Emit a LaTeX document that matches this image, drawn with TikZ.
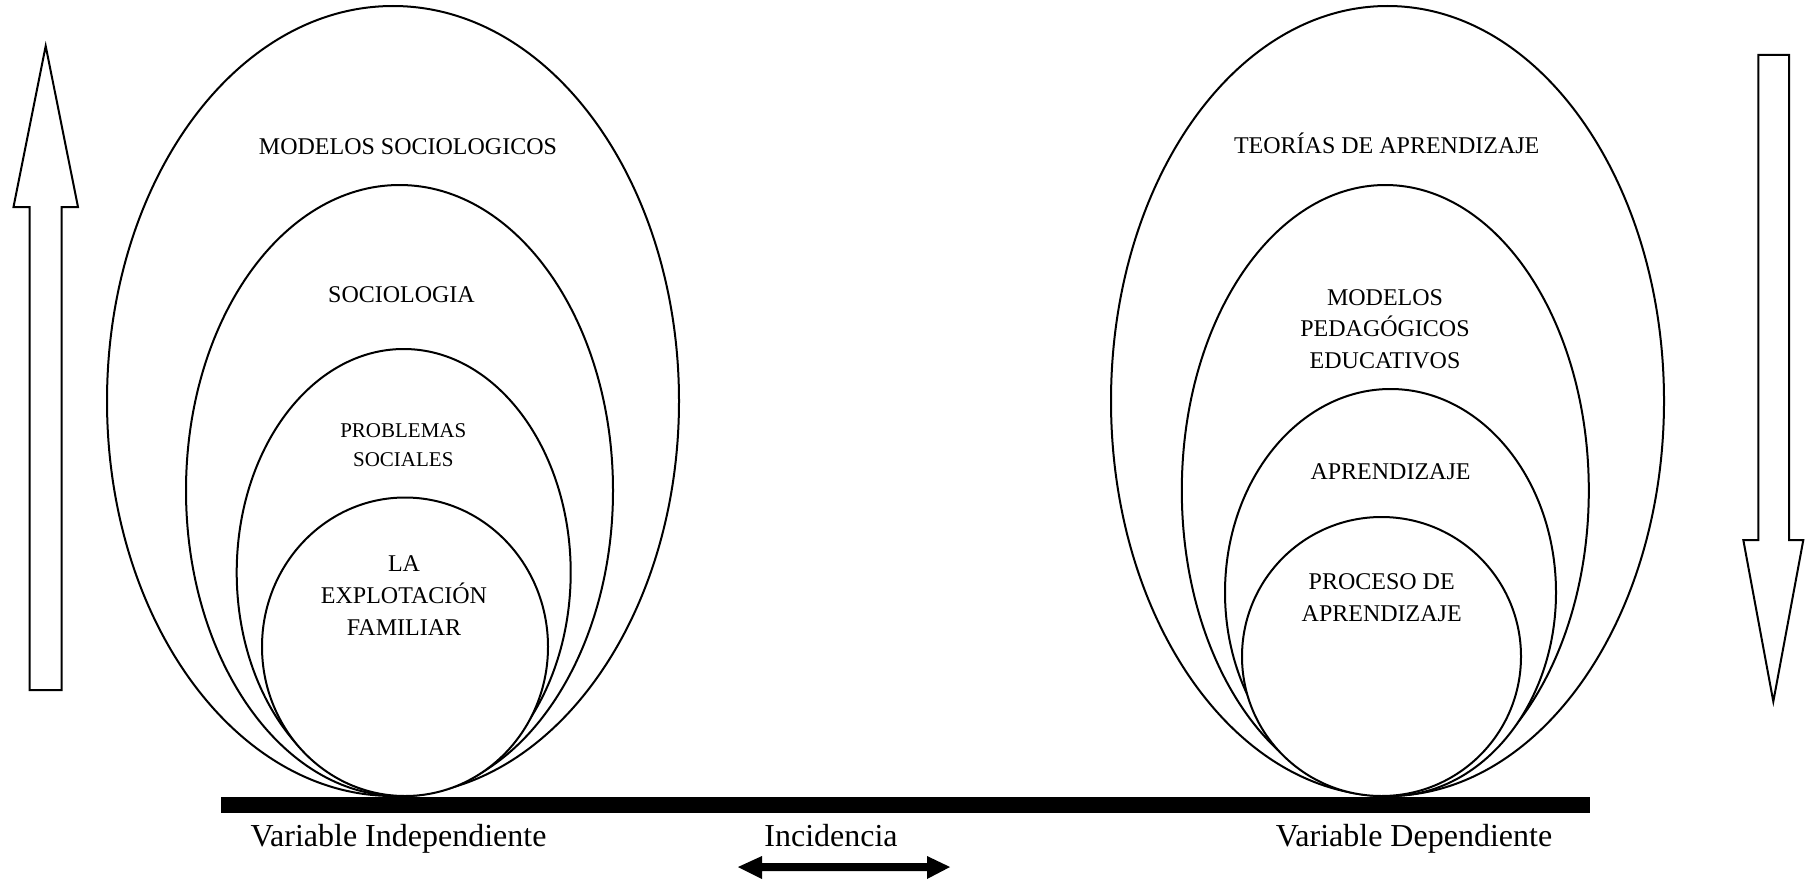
\documentclass[tikz,border=0pt]{standalone}
\usepackage{fontspec}
\setmainfont{Liberation Serif}
\usetikzlibrary{shapes.geometric}
\begin{document}
\begin{tikzpicture}[x=0.5pt,y=-0.5pt,
  ring/.style={draw, fill=white, ellipse, line width=1pt, inner sep=0pt, outer sep=0pt},
  lbl/.style={anchor=base, inner sep=0pt, align=center, font=\fontsize{12pt}{16pt}\selectfont},
  lblsmall/.style={anchor=base, inner sep=0pt, align=center, font=\fontsize{10.5pt}{14.5pt}\selectfont},
  bottomlbl/.style={anchor=base, inner sep=0pt, font=\fontsize{16pt}{19pt}\selectfont},
  hollowarrow/.style={draw, line width=1pt, fill=white, line join=miter}]
\useasboundingbox (0,0) rectangle (1809,883);
% left group
\node[ring, minimum width=286pt, minimum height=395pt] (lo) at (393,401) {};
\node[ring, minimum width=213.5pt, minimum height=305.5pt] (l2) at (399.5,490.5) {};
\node[ring, minimum width=167pt, minimum height=223.5pt] (l3) at (403.7,572.5) {};
\node[ring, minimum width=143pt, minimum height=149.25pt] (lc) at (405,646.75) {};
\node[lbl] (tlo) at (408,154.5) {MODELOS SOCIOLOGICOS};
\node[lbl] (tl2) at (401.5,302) {SOCIOLOGIA};
\node[lblsmall] (tl3) at (403.3,466) {PROBLEMAS\\SOCIALES};
\node[lbl] (tlc) at (404,635) {LA\\EXPLOTACIÓN\\FAMILIAR};
% right group
\node[ring, minimum width=276.5pt, minimum height=395pt] (ro) at (1387.5,401) {};
\node[ring, minimum width=203.5pt, minimum height=305.5pt] (r2) at (1385.3,490.5) {};
\node[ring, minimum width=165.5pt, minimum height=203.5pt] (r3) at (1390.5,592.5) {};
\node[ring, minimum width=139.5pt, minimum height=139.5pt] (rc) at (1381.5,656.5) {};
\node[lbl] (tro) at (1386.7,154) {TEORÍAS DE APRENDIZAJE};
\node[lbl, font=\fontsize{12pt}{15.6pt}\selectfont] (tr2) at (1385,368) {MODELOS\\PEDAGÓGICOS\\EDUCATIVOS};
\node[lbl] (tr3) at (1390.5,479) {APRENDIZAJE};
\node[lbl] (trc) at (1381.7,621) {PROCESO DE\\APRENDIZAJE};
% base bar
\fill (221,797) rectangle (1590,813);
% bottom labels
\node[bottomlbl] (vi) at (398.5,846) {Variable Independiente};
\node[bottomlbl] (inc) at (831,846) {Incidencia};
\node[bottomlbl] (vd) at (1414,846) {Variable Dependiente};
% double arrow
\fill (738,867) -- (762,856) -- (762,863) -- (927,863) -- (927,856) -- (950,867)
  -- (927,879) -- (927,871) -- (762,871) -- (762,879) -- cycle;
% left up arrow
\draw[hollowarrow] (29.5,690) -- (29.5,207) -- (13.5,207) -- (45.7,46) -- (78,207)
  -- (61.7,207) -- (61.7,690) -- cycle;
% right down arrow
\draw[hollowarrow] (1758.3,55) -- (1789,55) -- (1789,540) -- (1803.3,540)
  -- (1773.3,701.5) -- (1743.3,540) -- (1758.3,540) -- cycle;
\end{tikzpicture}
\end{document}
